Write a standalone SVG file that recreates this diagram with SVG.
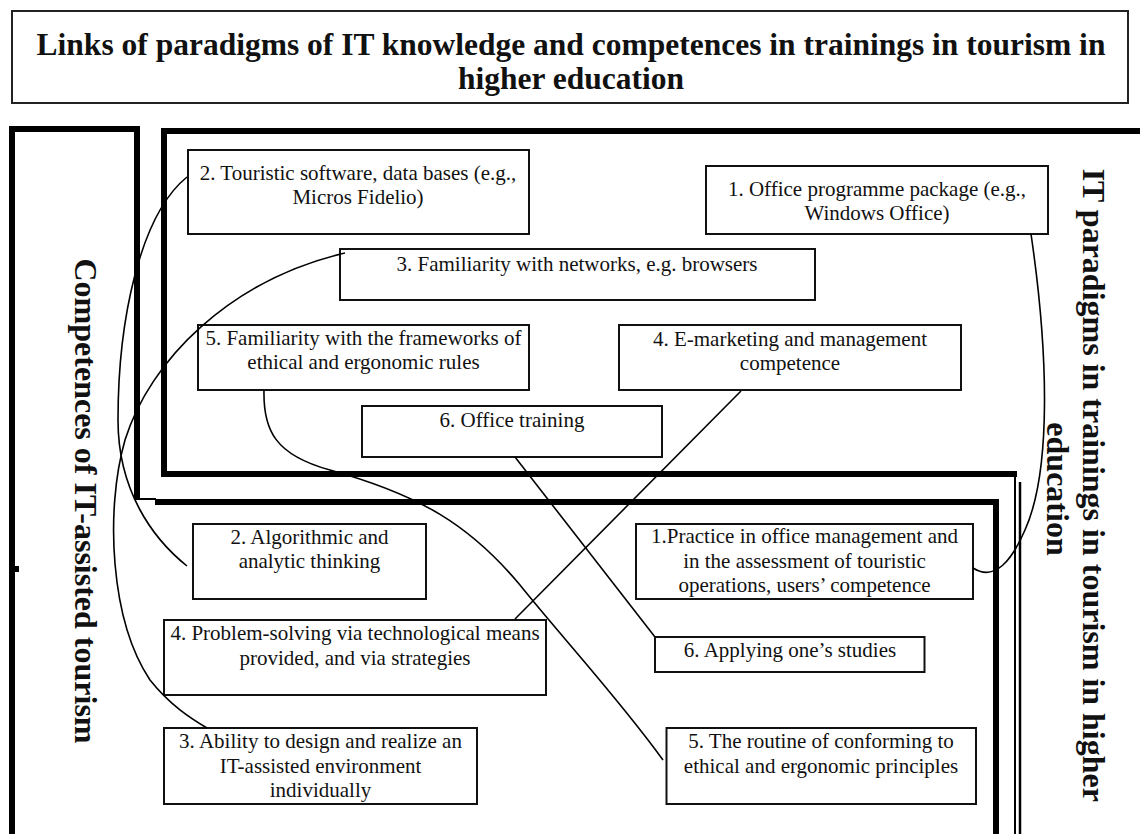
<svg xmlns="http://www.w3.org/2000/svg" width="1140" height="834" viewBox="0 0 1140 834">
  <style>
    .frame { fill: none; stroke: #000; stroke-width: 6; stroke-linecap: butt; }
    .thin { fill: none; stroke: #000; stroke-width: 2; }
    .box rect { fill: #fff; stroke: #111; stroke-width: 2; }
    .box text { font-family: "Liberation Serif", "Times New Roman", serif; font-size: 21px; fill: #111; text-anchor: middle; }
    .title { font-family: "Liberation Serif", "Times New Roman", serif; font-weight: bold; font-size: 31.5px; fill: #111; text-anchor: middle; }
    .side { font-family: "Liberation Serif", "Times New Roman", serif; font-weight: bold; font-size: 32px; fill: #111; text-anchor: middle; }
    .link { fill: none; stroke: #000; stroke-width: 1.6; }
  </style>

  <!-- heading -->
  <g id="title">
    <rect x="12" y="11" width="1116" height="92" fill="#fff" stroke="#222" stroke-width="2"/>
    <text class="title" x="571" y="55">Links of paradigms of IT knowledge and competences in trainings in tourism in</text>
    <text class="title" x="571" y="89">higher education</text>
  </g>

  <!-- competences region (L-shape: left strip + lower band) -->
  <g id="frame-competences">
    <polyline class="frame" points="12,834 12,129 137,129 137,499"/>
    <line class="thin" x1="134" y1="499" x2="156" y2="499"/>
    <polyline class="frame" points="155,502 996,502 996,834"/>
    <rect x="14" y="566" width="5" height="6" fill="#000"/>
  </g>

  <!-- IT paradigms region (upper band + right strip) -->
  <g id="frame-paradigms">
    <polyline class="frame" points="1140,131 164,131 164,474 1017,474"/>
    <line class="thin" x1="1015" y1="471" x2="1015" y2="834"/>
    <line stroke="#000" stroke-width="2.5" x1="1020" y1="482" x2="1020" y2="834"/>
  </g>

  <!-- side headings -->
  <g id="label-competences">
    <text class="side" transform="translate(75,501) rotate(90)">Competences of IT-assisted tourism</text>
  </g>
  <g id="label-paradigms">
    <text class="side" transform="translate(1083,489) rotate(90)">
      <tspan x="0" y="0">IT paradigms in trainings in tourism in higher</tspan>
      <tspan x="0" y="36">education</tspan>
    </text>
  </g>

  <!-- IT paradigms -->
  <g id="p1" class="box">
    <rect x="706" y="166" width="342" height="68"/>
    <text x="877" y="196">1. Office programme package (e.g.,</text>
    <text x="877" y="220">Windows Office)</text>
  </g>
  <g id="p2" class="box">
    <rect x="188" y="150" width="341" height="84"/>
    <text x="358" y="180">2. Touristic software, data bases (e.g.,</text>
    <text x="358" y="204">Micros Fidelio)</text>
  </g>
  <g id="p3" class="box">
    <rect x="340" y="249" width="475" height="51"/>
    <text x="577" y="271">3. Familiarity with networks, e.g. browsers</text>
  </g>
  <g id="p4" class="box">
    <rect x="619" y="325" width="342" height="65"/>
    <text x="790" y="346">4. E-marketing and management</text>
    <text x="790" y="370">competence</text>
  </g>
  <g id="p5" class="box">
    <rect x="198" y="325" width="331" height="65"/>
    <text x="363.5" y="345">5. Familiarity with the frameworks of</text>
    <text x="363.5" y="369">ethical and ergonomic rules</text>
  </g>
  <g id="p6" class="box">
    <rect x="362" y="406" width="300" height="51"/>
    <text x="512" y="427">6. Office training</text>
  </g>

  <!-- competences -->
  <g id="c1" class="box">
    <rect x="636" y="524" width="337" height="75"/>
    <text x="804.5" y="543">1.Practice in office management and</text>
    <text x="804.5" y="567.5">in the assessment of touristic</text>
    <text x="804.5" y="592">operations, users’ competence</text>
  </g>
  <g id="c2" class="box">
    <rect x="193" y="524" width="233" height="75"/>
    <text x="309.5" y="544">2. Algorithmic and</text>
    <text x="309.5" y="568">analytic thinking</text>
  </g>
  <g id="c3" class="box">
    <rect x="164" y="728" width="313" height="76"/>
    <text x="320.5" y="748">3. Ability to design and realize an</text>
    <text x="320.5" y="772.5">IT-assisted environment</text>
    <text x="320.5" y="797">individually</text>
  </g>
  <g id="c4" class="box">
    <rect x="164" y="620" width="382" height="75"/>
    <text x="355" y="640">4. Problem-solving via technological means</text>
    <text x="355" y="665">provided, and via strategies</text>
  </g>
  <g id="c5" class="box">
    <rect x="666.5" y="728" width="309.5" height="76"/>
    <text x="821" y="748">5. The routine of conforming to</text>
    <text x="821" y="773">ethical and ergonomic principles</text>
  </g>
  <g id="c6" class="box">
    <rect x="655" y="637" width="269.5" height="35"/>
    <text x="790" y="657">6. Applying one’s studies</text>
  </g>

  <!-- links between paradigms and competences -->
  <g id="connectors">
    <path class="link" d="M1031,234 C1048,350 1052,470 1025,530 C1012,560 995,582 973,568"/>
    <path class="link" d="M187,177 C140,215 118,320 118,420 C118,490 152,538 187,566"/>
    <path class="link" d="M345,253 C230,280 150,360 125,440 C105,510 110,620 150,680 C170,705 190,718 207,728"/>
    <path class="link" d="M741,391 L515,619"/>
    <path class="link" d="M264,390 C263,430 275,455 330,470 C420,495 470,525 520,585 C560,635 620,700 663,760"/>
    <path class="link" d="M515,457 L655,637"/>
  </g>
</svg>
